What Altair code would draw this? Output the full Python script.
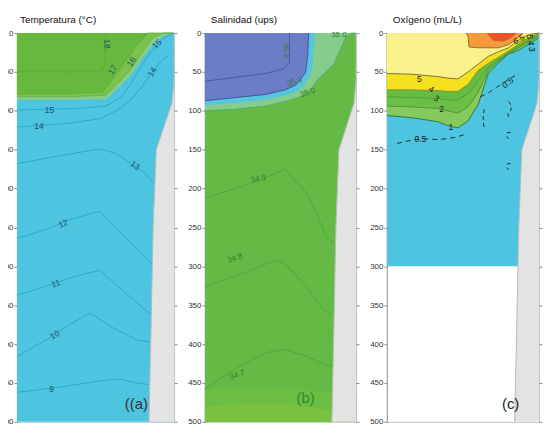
import altair as alt
import pandas as pd

# ---------------- shared bathymetry (distance km, depth m) ----------------
floor_z = [0, 60, 90, 150, 250, 380, 500]
floor_d = [0, 0, 2, 17, 20, 22, 24]

YTICKS = [0, 50, 100, 150, 200, 250, 300, 350, 400, 450, 500]
XTICKS = [150, 100, 50, 0]

# ---------------- (a) Temperature ----------------
ta_trans_d = [150, 100, 65, 50, 40, 30, 20, 10, 0]
ta_trans_z = [86, 86, 85, 66, 52, 32, 14, 4, 0]
ta_16_d = [150, 100, 65, 50, 40, 30, 20, 10, 0]
ta_16_z = [82, 82, 80, 60, 45, 24, 6, 0, 0]
ta_17_d = [150, 100, 68, 55, 45, 35, 25, 0]
ta_17_z = [78, 78, 76, 52, 34, 14, 0, 0]
t18_d = [150, 100, 70, 66, 65]
t18_z = [50, 50, 50, 40, 0]
t15_d = [150, 120, 90, 65, 50, 40, 30, 20, 10, 0]
t15_z = [99, 98, 97, 94, 82, 62, 40, 20, 6, 0]
t14_d = [150, 120, 100, 70, 50, 40, 30, 21, 12, 5]
t14_z = [121, 118, 116, 110, 96, 84, 68, 50, 36, 28]
t13_d = [150, 110, 71, 55, 44, 28, 19]
t13_z = [168, 158, 149, 155, 165, 180, 193]
t12_d = [150, 120, 100, 71, 50, 28, 21]
t12_z = [264, 252, 240, 229, 258, 288, 296]
t11_d = [150, 120, 100, 71, 50, 26, 21]
t11_z = [337, 325, 315, 305, 330, 358, 362]
t10_d = [150, 120, 100, 80, 60, 35, 23]
t10_z = [416, 393, 375, 360, 378, 395, 397]
t9_d = [150, 125, 102, 75, 53, 35, 24]
t9_z = [462, 458, 454, 448, 445, 450, 452]
ta_lab_text = ["18", "17", "16", "15", "15", "14", "14", "13", "12", "11", "10", "9"]
ta_lab_d = [64, 59, 41, 16.5, 119, 129, 21, 37, 106, 113, 114, 117]
ta_lab_z = [14, 47, 37, 14, 99, 119, 50, 170, 245, 322, 388, 458]
ta_lab_a = [85, 300, 300, 315, 0, 0, 300, 35, 340, 340, 330, 0]

# ---------------- (b) Salinity ----------------
sb_bot1_d = [150, 100, 60, 30, 0]
sb_bot1_z = [458, 455, 457, 462, 465]
sb_bot2_d = [150, 100, 60, 30, 0]
sb_bot2_z = [480, 476, 478, 484, 486]
sb_350_d = [150, 120, 90, 70, 55, 45, 38, 30, 22, 15, 10, 5, 0]
sb_350_z = [100, 98, 94, 88, 82, 72, 60, 50, 40, 20, 5, 0, 0]
sb_cy_d = [150, 120, 90, 70, 60, 52, 46, 43, 42, 41]
sb_cy_z = [93, 90, 86, 80, 76, 68, 55, 40, 20, 0]
sb_pu_d = [150, 120, 90, 70, 60, 55, 50, 48, 47]
sb_pu_z = [87, 83, 79, 73, 67, 60, 50, 30, 0]
s352_d = [150, 120, 90, 72, 66, 66]
s352_z = [62, 57, 52, 46, 38, 0]
s349_d = [150, 120, 97, 71, 48, 29, 22]
s349_z = [212, 200, 190, 175, 207, 263, 270]
s348_d = [150, 110, 80, 71, 50, 32, 24]
s348_z = [326, 308, 292, 296, 325, 356, 362]
s347_d = [150, 120, 90, 71, 50, 29, 22]
s347_z = [458, 432, 411, 407, 415, 428, 428]
sb_lab_text = ["35.2", "35.1", "35.0", "35.0", "34.9", "34.8", "34.7"]
sb_lab_d = [70, 61, 48, 17, 97, 120, 118]
sb_lab_z = [22, 63, 77, 3, 188, 290, 440]
sb_lab_a = [90, 340, 340, 0, 350, 340, 340]

# ---------------- (c) Oxygen ----------------
oc_1_d = [150, 125, 100, 90, 80, 70, 60, 50, 40, 30, 20, 10, 0]
oc_1_z = [106, 109, 114, 119, 122, 113, 92, 52, 38, 27, 22, 14, 6]
oc_2_d = [150, 125, 100, 90, 80, 70, 60, 50, 40, 30, 20, 10, 0]
oc_2_z = [94, 95, 97, 100, 103, 95, 76, 48, 36, 26, 19, 11, 4]
oc_3_d = [150, 125, 100, 90, 80, 70, 60, 50, 40, 30, 20, 10, 0]
oc_3_z = [82, 83, 84, 86, 86, 78, 62, 44, 34, 25, 17, 9, 2]
oc_4_d = [150, 125, 100, 90, 80, 70, 60, 50, 40, 30, 20, 10, 0]
oc_4_z = [73, 73, 74, 75, 75, 66, 48, 39, 31, 23, 14, 6, 0]
oc_5_d = [150, 125, 100, 90, 80, 70, 60, 50, 40, 30, 20, 10, 0]
oc_5_z = [52, 53, 56, 58, 59, 50, 40, 30, 24, 19, 9, 2, 0]
oc_65_d = [72, 70, 69, 60, 50, 40, 30, 22, 16]
oc_65_z = [0, 4, 18, 19, 19, 19, 15, 8, 0]
oc_red_d = [52, 45, 35, 28, 22]
oc_red_z = [0, 10, 11, 7, 0]
o05a_d = [140, 130, 122, 112, 100, 92, 82, 72]
o05a_z = [142, 139, 137, 136, 137, 136, 134, 130]
o05b_d = [58, 50, 42, 35, 28, 20]
o05b_z = [82, 77, 70, 64, 58, 52]
o05c_d = [54, 55, 55, 54]
o05c_z = [98, 106, 114, 122]
o05d_d = [30, 27, 28, 31, 29]
o05d_z = [88, 94, 100, 104, 110]
o05e_d = [28, 31, 32, 30]
o05e_z = [128, 128, 133, 136]
o05f_d = [28, 31, 32, 30]
o05f_z = [168, 168, 173, 176]
oc_lab_text = ["6.5", "5", "4", "3", "2", "1", "0.5", "0.5", "5", "4", "3"]
oc_lab_d = [20, 118, 106, 101, 96, 87, 117, 31, 9, 8, 7]
oc_lab_z = [8, 59, 72, 84, 98, 121, 136, 64, 5, 13, 21]
oc_lab_a = [330, 0, 30, 30, 0, 0, 0, 320, 90, 90, 90]

# ---------------- helpers ----------------
xs = alt.Scale(domain=[0, 150], reverse=True, nice=False, zero=False)
ys = alt.Scale(domain=[0, 500], reverse=True, nice=False, zero=False)
AX = alt.Axis(values=XTICKS, title=None, grid=False, tickSize=3)
AY = alt.Axis(values=YTICKS, title=None, grid=False, tickSize=3)
AYR = alt.Axis(values=YTICKS, title=None, grid=False, tickSize=3, orient="right",
               labels=False, domain=False)


def area(d, z, color, base=0, ax=None, ay=None):
    df = pd.DataFrame({"d": d, "z": z, "b": [base] * len(d)})
    return alt.Chart(df).mark_area(color=color, interpolate="linear").encode(
        x=alt.X("d:Q", scale=xs, axis=ax),
        y=alt.Y("z:Q", scale=ys, axis=ay),
        y2="b:Q",
    )


def line(d, z, color, width=1.0, dash=None):
    df = pd.DataFrame({"d": d, "z": z, "i": list(range(len(d)))})
    kw = dict(color=color, strokeWidth=width)
    if dash:
        kw["strokeDash"] = dash
    return alt.Chart(df).mark_line(**kw).encode(
        x=alt.X("d:Q", scale=xs, axis=None),
        y=alt.Y("z:Q", scale=ys, axis=None),
        order="i:Q",
    )


def labels(text, d, z, a, color, size=8.5):
    df = pd.DataFrame({"t": text, "d": d, "z": z, "a": a})
    return alt.Chart(df).mark_text(color=color, fontSize=size, font="Liberation Sans").encode(
        x=alt.X("d:Q", scale=xs, axis=None),
        y=alt.Y("z:Q", scale=ys, axis=None),
        text="t:N",
        angle=alt.Angle("a:Q", scale=None),
    )


def floor_layers():
    df = pd.DataFrame({"d": floor_d, "z": floor_z, "zero": [0] * len(floor_d),
                       "i": list(range(len(floor_d)))})
    fill = alt.Chart(df).mark_area(orient="horizontal", color="#e3e3e3").encode(
        y=alt.Y("z:Q", scale=ys, axis=None),
        x=alt.X("d:Q", scale=xs, axis=None),
        x2="zero:Q",
    )
    edge = alt.Chart(df).mark_line(color="#b9b9b9", strokeWidth=1).encode(
        y=alt.Y("z:Q", scale=ys, axis=None),
        x=alt.X("d:Q", scale=xs, axis=None),
        order="i:Q",
    )
    right = alt.Chart(df).mark_point(opacity=0).encode(
        y=alt.Y("z:Q", scale=ys, axis=AYR),
        x=alt.X("d:Q", scale=xs, axis=None),
    )
    return [fill, edge, right]


def tag(text, d, z, color):
    df = pd.DataFrame({"t": [text], "d": [d], "z": [z]})
    return alt.Chart(df).mark_text(color=color, fontSize=15, font="Liberation Sans").encode(
        x=alt.X("d:Q", scale=xs, axis=None),
        y=alt.Y("z:Q", scale=ys, axis=None),
        text="t:N",
    )


CYAN = "#4dc4e0"
TL = "#2aa7cf"
H = 391

# ---------------- panel a ----------------
pa = alt.layer(
    area([150, 0], [500, 500], CYAN, ax=AX, ay=AY),
    area(ta_trans_d, ta_trans_z, "#8ccd86"),
    area(ta_16_d, ta_16_z, "#7cc24a"),
    area(ta_17_d, ta_17_z, "#67b93d"),
    line(t18_d, t18_z, "#55a83a", 0.8),
    line(ta_17_d, ta_17_z, "#58ab3c", 0.8),
    line(ta_16_d, ta_16_z, "#5aae5a", 0.8),
    line(t15_d, t15_z, TL),
    line(t14_d, t14_z, TL),
    line(t13_d, t13_z, TL),
    line(t12_d, t12_z, TL),
    line(t11_d, t11_z, TL),
    line(t10_d, t10_z, TL),
    line(t9_d, t9_z, TL),
    labels(ta_lab_text, ta_lab_d, ta_lab_z, ta_lab_a, "#1f4f68"),
    *floor_layers(),
    tag("((a)", 36, 477, "#333333"),
).resolve_axis(y="independent").properties(
    width=158, height=H,
    title=alt.TitleParams("Temperatura (°C)", frame="group", dx=3),
)

# ---------------- panel b ----------------
SG = "#2f7f2f"
pb = alt.layer(
    area([150, 0], [500, 500], "#64ba45", ax=AX, ay=AY),
    area(sb_bot1_d, sb_bot1_z, "#6cbd43", base=500),
    area(sb_bot2_d, sb_bot2_z, "#78c141", base=500),
    area(sb_350_d, sb_350_z, "#86cc8c"),
    area(sb_cy_d, sb_cy_z, "#56c6df"),
    area(sb_pu_d, sb_pu_z, "#6b7dc6"),
    line(s352_d, s352_z, "#4a5aa6"),
    line(sb_pu_d, sb_pu_z, "#3d56a2"),
    line(sb_350_d, sb_350_z, "#4fa660", 0.8),
    line(s349_d, s349_z, "#4ea83e"),
    line(s348_d, s348_z, "#4ea83e"),
    line(s347_d, s347_z, "#4ea83e"),
    labels(sb_lab_text, sb_lab_d, sb_lab_z, sb_lab_a, SG, 8),
    *floor_layers(),
    tag("(b)", 50, 470, "#2e8a2e"),
).resolve_axis(y="independent").properties(
    width=152, height=H,
    title=alt.TitleParams("Salinidad (ups)", frame="group", dx=6),
)

# ---------------- panel c ----------------
OL = "#2a2a2a"
pc = alt.layer(
    area([150, 0], [300, 300], CYAN, ax=AX, ay=AY),
    area(oc_1_d, oc_1_z, "#86c95c"),
    area(oc_2_d, oc_2_z, "#6cbf44"),
    area(oc_3_d, oc_3_z, "#65bc40"),
    area(oc_4_d, oc_4_z, "#f4e01e"),
    area(oc_5_d, oc_5_z, "#fbf18c"),
    area(oc_65_d, oc_65_z, "#f39b3a"),
    area(oc_red_d, oc_red_z, "#e8552a"),
    line(oc_1_d, oc_1_z, "#2d6f3a", 0.9),
    line(oc_2_d, oc_2_z, "#3f8a3a", 0.8),
    line(oc_3_d, oc_3_z, "#4c9a3a", 0.8),
    line(oc_4_d, oc_4_z, "#8a8a30", 0.8),
    line(oc_5_d, oc_5_z, "#6e6a30", 0.9),
    line(oc_65_d, oc_65_z, "#7a5a28", 0.8),
    line(o05a_d, o05a_z, OL, 1, [5, 4]),
    line(o05b_d, o05b_z, OL, 1, [5, 4]),
    line(o05c_d, o05c_z, OL, 1, [4, 3]),
    line(o05d_d, o05d_z, OL, 1, [4, 3]),
    line(o05e_d, o05e_z, OL, 1, [4, 3]),
    line(o05f_d, o05f_z, OL, 1, [4, 3]),
    labels(oc_lab_text, oc_lab_d, oc_lab_z, oc_lab_a, "#1a1a1a"),
    *floor_layers(),
    tag("(c)", 28, 477, "#222222"),
).resolve_axis(y="independent").properties(
    width=153, height=H,
    title=alt.TitleParams("Oxígeno (mL/L)", frame="group", dx=6),
)

chart = alt.hconcat(pa, pb, pc, spacing=9).properties(
    padding={"left": -9, "top": 5, "right": 0, "bottom": -4},
).configure_view(
    stroke="#c4c4c4", strokeWidth=1,
).configure_axis(
    labelFont="Liberation Sans", labelFontSize=8, labelColor="#333333",
    tickColor="#8a8a8a", domainColor="#9a9a9a", labelPadding=1,
).configure_title(
    font="Liberation Sans", fontSize=10, fontWeight="normal", anchor="start",
    color="#111111", offset=4,
)

chart.save("out.html", embed_options={"renderer": "svg", "actions": False})
